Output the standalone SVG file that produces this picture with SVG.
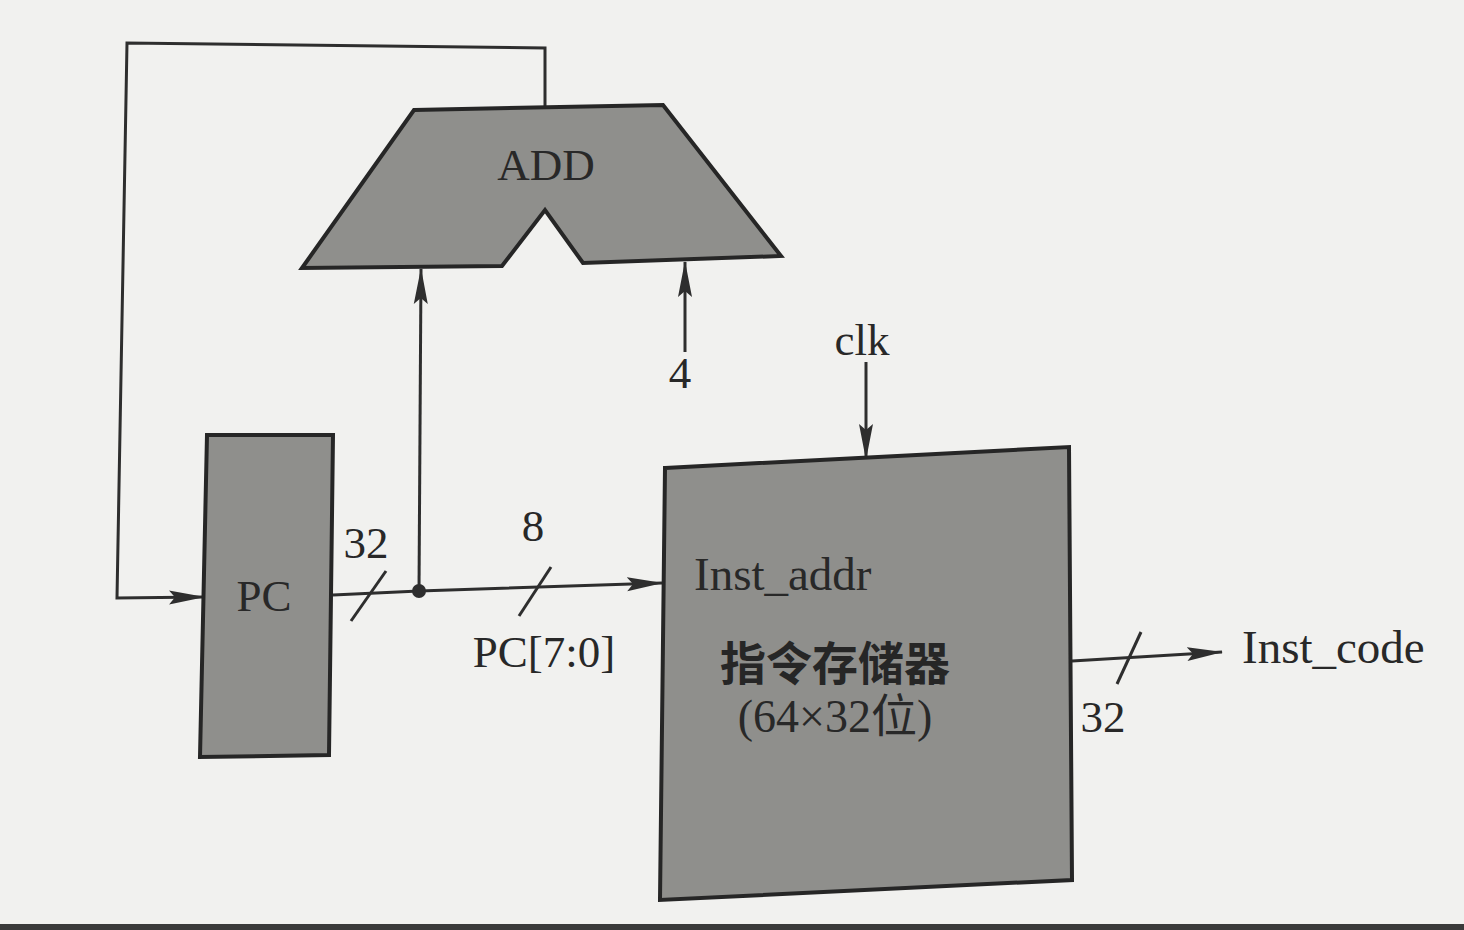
<svg xmlns="http://www.w3.org/2000/svg" width="1464" height="930" viewBox="0 0 1464 930">
<defs>
<style>
.bg{fill:#f1f1ef}
.blk{fill:#8f8f8c;stroke:#262626;stroke-width:4;stroke-linejoin:miter}
.w{fill:none;stroke:#2e2e2e;stroke-width:3}
.t{font-family:"Liberation Serif","Noto Sans CJK SC",serif;font-size:45px;fill:#282828}
.c{text-anchor:middle}
.cj{font-family:"Liberation Serif","Noto Sans CJK SC",serif;font-size:46px;font-weight:bold;fill:#262626;text-anchor:middle}
</style>
<marker id="ahl" markerWidth="36" markerHeight="16" refX="35" refY="8" orient="auto" markerUnits="userSpaceOnUse" viewBox="0 0 36 16">
<path d="M0,1 L36,8 L0,15 L6,8 Z" fill="#2e2e2e"/>
</marker>
</defs>
<rect class="bg" x="0" y="0" width="1464" height="930"/>
<rect x="0" y="924" width="1464" height="6" fill="#3a3a3a"/>

<g id="connectors">
<polyline class="w" points="545,106 545,48 127,43 117,598 204,597" marker-end="url(#ahl)"/>
<polyline class="w" points="333,595 419,591 662,583" marker-end="url(#ahl)"/>
<circle cx="419" cy="591" r="7" fill="#2e2e2e"/>
<line class="w" x1="351" y1="621" x2="386" y2="571"/>
<line class="w" x1="519" y1="616" x2="551" y2="567"/>
<line class="w" x1="419" y1="591" x2="421" y2="269" marker-end="url(#ahl)"/>
<line class="w" x1="685" y1="352" x2="685" y2="262" marker-end="url(#ahl)"/>
<line class="w" x1="866" y1="362" x2="866" y2="459" marker-end="url(#ahl)"/>
<line class="w" x1="1072" y1="661" x2="1222" y2="652" marker-end="url(#ahl)"/>
<line class="w" x1="1117" y1="684" x2="1141" y2="632"/>
</g>

<g id="add">
<polygon class="blk" points="414,110 663,105 781,256 583,263 545,210 502,266 302,268"/>
<text class="t c" x="546" y="180">ADD</text>
</g>

<g id="pc">
<polygon class="blk" points="207,435 333,435 329,755 200,757"/>
<text class="t c" x="264" y="611">PC</text>
</g>

<g id="imem">
<polygon class="blk" points="665,468 1069,447 1072,880 660,900"/>
<text class="t" x="694" y="590" style="font-size:47px">Inst_addr</text>
<text class="cj" x="835" y="680">指令存储器</text>
<text class="t c" x="835" y="732" style="font-size:46px">(64×32位)</text>
</g>

<g id="labels">
<text class="t c" x="366" y="558">32</text>
<text class="t c" x="533" y="541">8</text>
<text class="t c" x="544" y="667">PC[7:0]</text>
<text class="t c" x="680" y="388">4</text>
<text class="t c" x="862" y="355">clk</text>
<text class="t c" x="1103" y="732">32</text>
<text class="t" x="1242" y="663" style="font-size:47px">Inst_code</text>
</g>
</svg>
